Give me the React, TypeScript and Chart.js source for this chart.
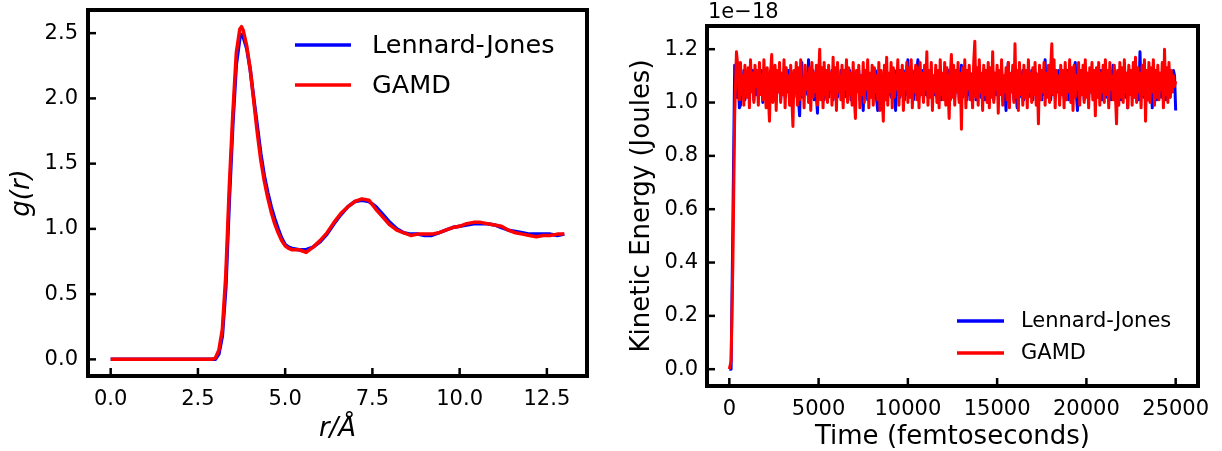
import React, { useEffect, useRef } from 'react';
import { Chart, registerables } from 'chart.js';

Chart.register(...registerables);

const FONT = "'DejaVu Sans', 'Liberation Sans', sans-serif";

// ---------- Left panel: radial distribution function ----------
const rValues = [
  0, 1, 2, 2.8,
  2.9, 3.0, 3.1, 3.2, 3.3, 3.4, 3.5, 3.6, 3.7, 3.75, 3.8, 3.9, 4.0, 4.1, 4.2, 4.3, 4.4, 4.5, 4.6, 4.7, 4.8, 4.9, 5.0, 5.1, 5.2,
  5.4, 5.6, 5.8, 6.0, 6.2, 6.4, 6.6, 6.8, 7.0, 7.2, 7.4, 7.6, 7.8, 8.0, 8.2, 8.4, 8.6, 8.8, 9.0, 9.2,
  9.4, 9.6, 9.8, 10.0, 10.2, 10.4, 10.6, 10.8, 11.0, 11.2, 11.4, 11.6, 11.8, 12.0, 12.2, 12.4, 12.6, 12.8, 13.0,
];
const gLennardJones = [
  0, 0, 0, 0,
  0.0, 0.0, 0.04, 0.18, 0.55, 1.22, 1.80, 2.26, 2.46, 2.49, 2.47, 2.38, 2.22, 2.00, 1.79, 1.58, 1.41, 1.28, 1.17, 1.08, 1.00, 0.93, 0.88, 0.86, 0.85,
  0.84, 0.84, 0.86, 0.90, 0.96, 1.04, 1.11, 1.17, 1.21, 1.22, 1.21, 1.17, 1.11, 1.05, 1.00, 0.97, 0.96, 0.96, 0.95, 0.95,
  0.97, 0.99, 1.01, 1.02, 1.03, 1.04, 1.04, 1.04, 1.03, 1.01, 0.99, 0.98, 0.97, 0.96, 0.96, 0.96, 0.96, 0.95, 0.96,
];
const gGAMD = [
  0, 0, 0, 0,
  0.0, 0.01, 0.07, 0.23, 0.65, 1.33, 1.88, 2.35, 2.53, 2.55, 2.52, 2.40, 2.22, 1.98, 1.74, 1.53, 1.37, 1.24, 1.13, 1.04, 0.97, 0.91, 0.87, 0.85, 0.84,
  0.84, 0.82, 0.86, 0.91, 0.97, 1.05, 1.12, 1.17, 1.21, 1.23, 1.22, 1.15, 1.09, 1.03, 0.99, 0.97, 0.95, 0.96, 0.96, 0.96,
  0.97, 0.99, 1.01, 1.02, 1.04, 1.05, 1.05, 1.04, 1.03, 1.02, 0.99, 0.97, 0.96, 0.95, 0.94, 0.95, 0.95, 0.96, 0.96,
];
const rTicks = [0, 2.5, 5, 7.5, 10, 12.5];
const gTicks = [0, 0.5, 1, 1.5, 2, 2.5];

// ---------- Right panel: kinetic energy (units of 1e-18 J) ----------
const timeFs = [
  0, 100, 200, 300, 400,
  500, 562.5, 625, 687.5, 750, 812.5, 875, 937.5, 1000, 1062.5, 1125, 1187.5, 1250, 1312.5, 1375, 1437.5,
  1500, 1562.5, 1625, 1687.5, 1750, 1812.5, 1875, 1937.5, 2000, 2062.5, 2125, 2187.5, 2250, 2312.5, 2375, 2437.5,
  2500, 2562.5, 2625, 2687.5, 2750, 2812.5, 2875, 2937.5, 3000, 3062.5, 3125, 3187.5, 3250, 3312.5, 3375, 3437.5,
  3500, 3562.5, 3625, 3687.5, 3750, 3812.5, 3875, 3937.5, 4000, 4062.5, 4125, 4187.5, 4250, 4312.5, 4375, 4437.5,
  4500, 4562.5, 4625, 4687.5, 4750, 4812.5, 4875, 4937.5, 5000, 5062.5, 5125, 5187.5, 5250, 5312.5, 5375, 5437.5,
  5500, 5562.5, 5625, 5687.5, 5750, 5812.5, 5875, 5937.5, 6000, 6062.5, 6125, 6187.5, 6250, 6312.5, 6375, 6437.5,
  6500, 6562.5, 6625, 6687.5, 6750, 6812.5, 6875, 6937.5, 7000, 7062.5, 7125, 7187.5, 7250, 7312.5, 7375, 7437.5,
  7500, 7562.5, 7625, 7687.5, 7750, 7812.5, 7875, 7937.5, 8000, 8062.5, 8125, 8187.5, 8250, 8312.5, 8375, 8437.5,
  8500, 8562.5, 8625, 8687.5, 8750, 8812.5, 8875, 8937.5, 9000, 9062.5, 9125, 9187.5, 9250, 9312.5, 9375, 9437.5,
  9500, 9562.5, 9625, 9687.5, 9750, 9812.5, 9875, 9937.5, 10000, 10062.5, 10125, 10187.5, 10250, 10312.5, 10375, 10437.5,
  10500, 10562.5, 10625, 10687.5, 10750, 10812.5, 10875, 10937.5, 11000, 11062.5, 11125, 11187.5, 11250, 11312.5, 11375, 11437.5,
  11500, 11562.5, 11625, 11687.5, 11750, 11812.5, 11875, 11937.5, 12000, 12062.5, 12125, 12187.5, 12250, 12312.5, 12375, 12437.5,
  12500, 12562.5, 12625, 12687.5, 12750, 12812.5, 12875, 12937.5, 13000, 13062.5, 13125, 13187.5, 13250, 13312.5, 13375, 13437.5,
  13500, 13562.5, 13625, 13687.5, 13750, 13812.5, 13875, 13937.5, 14000, 14062.5, 14125, 14187.5, 14250, 14312.5, 14375, 14437.5,
  14500, 14562.5, 14625, 14687.5, 14750, 14812.5, 14875, 14937.5, 15000, 15062.5, 15125, 15187.5, 15250, 15312.5, 15375, 15437.5,
  15500, 15562.5, 15625, 15687.5, 15750, 15812.5, 15875, 15937.5, 16000, 16062.5, 16125, 16187.5, 16250, 16312.5, 16375, 16437.5,
  16500, 16562.5, 16625, 16687.5, 16750, 16812.5, 16875, 16937.5, 17000, 17062.5, 17125, 17187.5, 17250, 17312.5, 17375, 17437.5,
  17500, 17562.5, 17625, 17687.5, 17750, 17812.5, 17875, 17937.5, 18000, 18062.5, 18125, 18187.5, 18250, 18312.5, 18375, 18437.5,
  18500, 18562.5, 18625, 18687.5, 18750, 18812.5, 18875, 18937.5, 19000, 19062.5, 19125, 19187.5, 19250, 19312.5, 19375, 19437.5,
  19500, 19562.5, 19625, 19687.5, 19750, 19812.5, 19875, 19937.5, 20000, 20062.5, 20125, 20187.5, 20250, 20312.5, 20375, 20437.5,
  20500, 20562.5, 20625, 20687.5, 20750, 20812.5, 20875, 20937.5, 21000, 21062.5, 21125, 21187.5, 21250, 21312.5, 21375, 21437.5,
  21500, 21562.5, 21625, 21687.5, 21750, 21812.5, 21875, 21937.5, 22000, 22062.5, 22125, 22187.5, 22250, 22312.5, 22375, 22437.5,
  22500, 22562.5, 22625, 22687.5, 22750, 22812.5, 22875, 22937.5, 23000, 23062.5, 23125, 23187.5, 23250, 23312.5, 23375, 23437.5,
  23500, 23562.5, 23625, 23687.5, 23750, 23812.5, 23875, 23937.5, 24000, 24062.5, 24125, 24187.5, 24250, 24312.5, 24375, 24437.5,
  24500, 24562.5, 24625, 24687.5, 24750, 24812.5, 24875, 24937.5, 25000,
];
const keLennardJones = [
  0.0, 0.0, 0.55, 1.14, 1.02,
  1.08, 0.98, 0.99, 1.10, 1.03, 1.12, 1.01, 1.09, 1.04, 1.11, 1.02, 1.08, 1.05, 1.12, 1.01, 1.10,
  1.03, 1.11, 1.02, 1.09, 1.05, 1.12, 1.00, 1.10, 1.04, 1.11, 1.02, 1.08, 1.03, 1.12, 1.01, 1.09,
  1.05, 1.11, 1.02, 1.10, 1.04, 1.12, 1.01, 1.09, 1.03, 1.11, 1.02, 1.08, 1.04, 1.12, 1.01, 1.10,
  1.03, 1.11, 1.02, 1.09, 1.04, 1.12, 1.01, 0.95, 1.10, 1.15, 1.02, 1.09, 1.04, 1.11, 1.03, 1.16,
  1.02, 1.10, 1.04, 1.12, 1.01, 1.09, 1.03, 0.96, 1.11, 1.02, 1.10, 1.04, 1.12, 1.01, 1.09, 1.03,
  1.11, 1.02, 1.10, 1.04, 1.12, 1.01, 1.09, 1.03, 1.11, 1.02, 1.08, 1.05, 1.12, 1.01, 1.10, 1.03,
  1.11, 1.02, 1.09, 1.04, 1.12, 1.01, 1.10, 1.03, 1.11, 1.02, 1.09, 1.05, 1.12, 1.01, 1.10, 1.03,
  0.97, 1.10, 1.03, 1.12, 1.01, 1.09, 1.04, 1.11, 1.02, 1.10, 1.03, 1.12, 1.01, 0.97, 1.09, 1.04,
  1.11, 1.02, 1.10, 1.04, 1.12, 1.01, 1.09, 1.03, 1.11, 1.02, 1.10, 1.04, 1.12, 0.97, 1.09, 1.03,
  1.11, 1.02, 1.10, 1.04, 1.12, 1.01, 1.09, 1.03, 1.16, 1.02, 1.10, 1.04, 1.12, 1.01, 1.09, 1.03,
  1.11, 1.16, 1.02, 1.10, 1.04, 1.12, 1.01, 1.09, 1.03, 1.11, 1.02, 1.10, 1.04, 1.12, 1.01, 1.09,
  1.03, 1.11, 1.02, 1.10, 1.04, 1.12, 1.01, 1.09, 1.03, 1.11, 1.02, 1.08, 1.05, 1.12, 1.01, 1.10,
  1.03, 1.11, 1.02, 1.09, 1.04, 1.12, 1.01, 1.10, 1.14, 1.02, 1.10, 1.04, 1.12, 1.01, 1.09, 1.03,
  1.11, 1.02, 1.10, 1.04, 1.12, 1.01, 1.09, 1.03, 1.11, 1.02, 1.10, 1.05, 1.12, 1.01, 1.09, 1.03,
  1.11, 1.02, 1.10, 1.04, 1.12, 1.01, 1.09, 1.03, 1.11, 1.02, 1.10, 1.04, 1.12, 1.01, 1.09, 1.03,
  0.97, 1.10, 1.15, 1.02, 1.10, 1.04, 1.12, 1.01, 1.09, 1.03, 0.98, 1.11, 1.02, 1.10, 1.04, 1.12,
  1.01, 1.09, 1.03, 1.11, 1.02, 1.10, 1.04, 1.12, 1.01, 1.09, 1.03, 1.11, 1.02, 1.10, 1.04, 1.12,
  1.01, 1.09, 1.03, 1.16, 1.02, 1.10, 1.04, 1.12, 1.01, 1.09, 1.03, 1.11, 1.02, 1.10, 1.04, 1.12,
  1.01, 1.09, 1.03, 1.11, 1.02, 1.10, 1.04, 1.12, 1.01, 1.09, 1.03, 1.11, 1.02, 1.10, 1.15, 1.03,
  0.97, 1.11, 1.02, 1.10, 1.04, 1.12, 1.01, 1.09, 1.03, 1.11, 1.02, 1.10, 1.04, 1.12, 1.01, 1.09,
  1.03, 1.11, 1.02, 1.10, 1.04, 1.12, 1.01, 1.09, 1.03, 1.11, 1.02, 1.10, 1.04, 1.12, 1.01, 1.09,
  1.14, 1.03, 1.11, 1.02, 1.10, 1.04, 1.12, 1.01, 1.09, 1.03, 1.11, 1.02, 1.10, 0.98, 1.12, 1.04,
  1.09, 1.03, 1.11, 1.02, 1.10, 1.04, 1.12, 1.01, 1.19, 1.03, 1.11, 1.02, 1.10, 1.04, 1.12, 1.01,
  1.09, 1.03, 1.11, 0.98, 1.10, 1.04, 1.12, 1.01, 1.09, 1.03, 1.11, 1.02, 1.10, 1.04, 1.12, 1.01,
  1.09, 1.03, 1.11, 1.02, 1.10, 1.04, 1.12, 1.10, 0.97,
];
const keGAMD = [
  0.0, 0.03, 0.40, 0.95, 1.19,
  1.12, 1.01, 1.15, 1.03, 1.10, 0.99, 1.14, 1.05, 1.02, 1.13, 0.98, 1.16, 1.04, 1.11, 1.00, 1.14,
  1.06, 1.12, 0.99, 1.15, 1.03, 1.10, 1.01, 1.16, 1.05, 0.98, 1.13, 1.02, 0.93, 1.11, 1.18, 1.00,
  1.09, 1.14, 0.97, 1.12, 1.04, 1.15, 1.00, 1.11, 1.03, 1.16, 0.98, 1.13, 1.05, 1.10, 0.99, 1.14,
  1.02, 0.91, 1.12, 1.04, 1.15, 0.99, 1.13, 1.01, 1.16, 1.03, 1.09, 0.98, 1.14, 1.05, 1.11, 1.00,
  1.13, 0.97, 1.15, 1.02, 1.11, 1.04, 1.14, 0.99, 1.10, 1.20, 1.01, 1.13, 0.98, 1.15, 1.03, 1.12,
  1.00, 1.14, 1.05, 1.11, 0.99, 1.17, 1.02, 1.13, 0.97, 1.15, 1.04, 1.10, 1.01, 1.14, 0.98, 1.12,
  1.05, 1.16, 1.00, 1.13, 1.03, 1.11, 0.99, 1.15, 1.02, 0.94, 1.12, 1.04, 1.14, 0.98, 1.10, 1.03,
  1.15, 1.00, 1.12, 1.05, 1.16, 0.98, 1.11, 1.02, 1.14, 0.99, 1.13, 1.04, 1.10, 1.01, 1.15, 0.97,
  1.12, 1.03, 0.93, 1.14, 1.01, 1.17, 0.99, 1.11, 1.04, 1.15, 0.98, 1.13, 1.02, 1.10, 1.05, 1.16,
  0.99, 1.12, 1.03, 1.14, 0.97, 1.11, 1.05, 1.15, 1.00, 1.13, 1.02, 1.16, 0.98, 1.10, 1.04, 1.14,
  1.01, 1.13, 0.98, 1.15, 1.03, 1.11, 1.00, 1.14, 1.05, 1.19, 0.99, 1.12, 1.02, 1.15, 0.97, 1.10,
  1.04, 1.14, 1.00, 1.12, 0.98, 1.16, 1.03, 1.11, 1.01, 1.15, 0.99, 1.13, 1.05, 0.94, 1.10, 1.18,
  1.02, 1.14, 0.99, 1.12, 1.04, 1.15, 1.00, 1.11, 0.90, 1.13, 1.03, 1.16, 0.98, 1.12, 1.05, 1.14,
  1.01, 1.10, 0.98, 1.15, 1.23, 1.02, 1.13, 0.99, 1.16, 1.04, 1.11, 0.97, 1.14, 1.03, 1.12, 1.00,
  1.15, 0.98, 1.13, 1.02, 1.19, 1.00, 1.11, 1.05, 1.14, 0.96, 1.12, 1.03, 1.16, 0.99, 1.10, 1.04,
  1.13, 1.01, 1.15, 0.98, 1.11, 1.04, 1.14, 1.00, 1.22, 1.02, 1.12, 0.97, 1.15, 1.03, 1.10, 0.99,
  1.14, 1.02, 1.12, 0.98, 1.16, 1.04, 1.11, 1.00, 1.13, 1.03, 1.15, 0.99, 1.10, 0.92, 1.14, 1.01,
  1.12, 1.04, 1.15, 0.99, 1.11, 1.02, 1.14, 1.00, 1.13, 1.22, 1.03, 1.16, 0.98, 1.12, 1.05, 1.10,
  0.99, 1.14, 1.03, 1.12, 0.98, 1.15, 1.01, 1.11, 1.04, 1.16, 1.00, 1.13, 0.97, 1.14, 1.02, 1.10,
  1.05, 1.15, 0.99, 1.12, 1.03, 1.14, 1.00, 1.16, 1.02, 1.11, 0.98, 1.13, 1.04, 1.15, 1.01, 1.12,
  0.95, 1.13, 1.02, 1.15, 0.99, 1.11, 1.04, 1.14, 1.00, 1.16, 1.03, 1.12, 0.98, 1.15, 1.05, 1.10,
  1.01, 1.14, 1.03, 0.92, 1.12, 0.99, 1.15, 1.02, 1.13, 1.00, 1.16, 1.04, 1.11, 0.98, 1.14, 1.03,
  1.12, 0.99, 1.15, 1.02, 1.17, 1.00, 1.13, 1.04, 1.11, 0.98, 1.14, 1.03, 1.16, 0.93, 1.12, 1.01,
  1.15, 1.00, 1.13, 1.04, 1.16, 0.99, 1.12, 1.02, 1.14, 1.01, 1.11, 1.05, 1.15, 0.98, 1.20, 1.03,
  1.13, 1.00, 1.15, 1.02, 1.12, 1.04, 1.10, 1.06, 1.08,
];
const timeTicks = [0, 5000, 10000, 15000, 20000, 25000];
const keTicks = [0, 0.2, 0.4, 0.6, 0.8, 1.0, 1.2];

const SERIES_NAMES = ['Lennard-Jones', 'GAMD'];
const SERIES_COLORS = ['#0000ff', '#ff0000'];
const SERIES_ORDER = [1, 0]; // GAMD drawn over Lennard-Jones

type LegendOpts = {
  lineX0: number; lineX1: number; textX: number; rowY: number[]; fontSize: number;
  offsetText?: { text: string; x: number; y: number; size: number };
};

function makeFramePlugin(legend: LegendOpts) {
  return {
    id: 'mplFrame',
    afterDraw(chart: any) {
      const { ctx, chartArea } = chart;
      const { left, right, top, bottom } = chartArea;
      const xs = chart.scales.x;
      const ys = chart.scales.y;
      ctx.save();
      ctx.strokeStyle = '#000';
      ctx.lineWidth = 2.5;
      ctx.lineCap = 'butt';
      for (const t of xs.ticks) {
        const px = xs.getPixelForValue(t.value);
        ctx.beginPath();
        ctx.moveTo(px, bottom);
        ctx.lineTo(px, bottom - 8);
        ctx.stroke();
      }
      for (const t of ys.ticks) {
        const py = ys.getPixelForValue(t.value);
        ctx.beginPath();
        ctx.moveTo(left, py);
        ctx.lineTo(left + 8, py);
        ctx.stroke();
      }
      ctx.lineWidth = 4;
      ctx.lineJoin = 'miter';
      ctx.strokeRect(left, top, right - left, bottom - top);

      // legend
      ctx.font = `${legend.fontSize}px ${FONT}`;
      ctx.textAlign = 'left';
      ctx.textBaseline = 'middle';
      chart.data.datasets.forEach((ds: any, i: number) => {
        const y = legend.rowY[i];
        ctx.strokeStyle = ds.borderColor;
        ctx.lineWidth = 3.5;
        ctx.beginPath();
        ctx.moveTo(legend.lineX0, y);
        ctx.lineTo(legend.lineX1, y);
        ctx.stroke();
        ctx.fillStyle = '#000';
        ctx.fillText(ds.label, legend.textX, y + 1);
      });

      if (legend.offsetText) {
        const o = legend.offsetText;
        ctx.font = `${o.size}px ${FONT}`;
        ctx.textAlign = 'left';
        ctx.textBaseline = 'middle';
        ctx.fillStyle = '#000';
        ctx.fillText(o.text, o.x, o.y);
      }
      ctx.restore();
    },
  };
}

function makeConfig(p: {
  xs: number[]; series: number[][]; xMin: number; xMax: number; yMin: number; yMax: number;
  xTicks: number[]; yTicks: number[]; xFmt: (v: number) => string; yFmt: (v: number) => string;
  xTitle: string; yTitle: string; titleItalic: boolean; lineWidth: number;
  yAxisWidth: number; xAxisHeight: number; padTop: number; padRight: number;
  yLabelPad: number; xLabelPad: number; yTitlePad: number; xTitlePad: number;
  legend: LegendOpts;
}) {
  const zeroPad = (s: any) => {
    s.paddingTop = 0; s.paddingBottom = 0; s.paddingLeft = 0; s.paddingRight = 0;
  };
  return {
    type: 'line' as const,
    data: {
      datasets: p.series.map((vals, i) => ({
        label: SERIES_NAMES[i],
        data: p.xs.map((x, j) => ({ x, y: vals[j] })),
        borderColor: SERIES_COLORS[i],
        backgroundColor: SERIES_COLORS[i],
        borderWidth: p.lineWidth,
        order: SERIES_ORDER[i],
        pointRadius: 0,
        tension: 0,
        fill: false,
        borderJoinStyle: 'round' as const,
      })),
    },
    options: {
      responsive: false,
      animation: false as const,
      devicePixelRatio: 1,
      layout: { padding: { left: 0, top: p.padTop, right: p.padRight, bottom: 0 } },
      plugins: { legend: { display: false }, tooltip: { enabled: false } },
      scales: {
        x: {
          type: 'linear' as const,
          min: p.xMin,
          max: p.xMax,
          grid: { display: false, drawTicks: false, tickLength: 0 },
          border: { display: false },
          afterBuildTicks: (s: any) => { s.ticks = p.xTicks.map((v) => ({ value: v })); },
          afterFit: (s: any) => { s.height = p.xAxisHeight; zeroPad(s); },
          ticks: {
            padding: p.xLabelPad,
            maxRotation: 0,
            autoSkip: false,
            color: '#000',
            font: { family: FONT, size: 21, lineHeight: 1.2 },
            callback: (v: any) => p.xFmt(Number(v)),
          },
          title: {
            display: true,
            text: p.xTitle,
            color: '#000',
            padding: { top: 0, bottom: p.xTitlePad },
            font: { family: FONT, size: 26, lineHeight: 1, style: p.titleItalic ? 'italic' : 'normal' },
          },
        },
        y: {
          type: 'linear' as const,
          min: p.yMin,
          max: p.yMax,
          grid: { display: false, drawTicks: false, tickLength: 0 },
          border: { display: false },
          afterBuildTicks: (s: any) => { s.ticks = p.yTicks.map((v) => ({ value: v })); },
          afterFit: (s: any) => { s.width = p.yAxisWidth; zeroPad(s); },
          ticks: {
            padding: p.yLabelPad,
            autoSkip: false,
            color: '#000',
            font: { family: FONT, size: 21, lineHeight: 1.2 },
            callback: (v: any) => p.yFmt(Number(v)),
          },
          title: {
            display: true,
            text: p.yTitle,
            color: '#000',
            padding: { top: p.yTitlePad, bottom: 0 },
            font: { family: FONT, size: 26, lineHeight: 1, style: p.titleItalic ? 'italic' : 'normal' },
          },
        },
      },
    },
    plugins: [makeFramePlugin(p.legend)],
  };
}

function ChartCanvas({ width, height, left, build }: { width: number; height: number; left: number; build: () => any }) {
  const ref = useRef<HTMLCanvasElement | null>(null);
  useEffect(() => {
    if (!ref.current) return;
    const chart = new Chart(ref.current, build());
    return () => chart.destroy();
  }, []);
  return (
    <canvas
      ref={ref}
      width={width}
      height={height}
      style={{ position: 'absolute', left, top: 0, width, height, display: 'block' }}
    />
  );
}

export default function App() {
  const leftConfig = () =>
    makeConfig({
      xs: rValues,
      series: [gLennardJones, gGAMD],
      xMin: -0.65, xMax: 13.65, yMin: -0.1275, yMax: 2.6775,
      xTicks: rTicks, yTicks: gTicks,
      xFmt: (v) => v.toFixed(1), yFmt: (v) => v.toFixed(1),
      xTitle: 'r/Å', yTitle: 'g(r)', titleItalic: true, lineWidth: 3.5,
      yAxisWidth: 88, xAxisHeight: 75, padTop: 10, padRight: 23,
      yLabelPad: 10, xLabelPad: 11, yTitlePad: 9, xTitlePad: 9,
      legend: { lineX0: 295, lineX1: 351, textX: 372, rowY: [45, 85], fontSize: 25.5 },
    });
  const rightConfig = () =>
    makeConfig({
      xs: timeFs,
      series: [keLennardJones, keGAMD],
      xMin: -1250, xMax: 26250, yMin: -0.063, yMax: 1.287,
      xTicks: timeTicks, yTicks: keTicks,
      xFmt: (v) => String(Math.round(v)), yFmt: (v) => v.toFixed(1),
      xTitle: 'Time (femtoseconds)', yTitle: 'Kinetic Energy (Joules)', titleItalic: false, lineWidth: 3,
      yAxisWidth: 97, xAxisHeight: 65, padTop: 26, padRight: 24,
      yLabelPad: 9, xLabelPad: 11, yTitlePad: 19, xTitlePad: 1,
      legend: {
        lineX0: 957 - 610, lineX1: 1004 - 610, textX: 1021 - 610, rowY: [321, 353], fontSize: 21,
        offsetText: { text: '1e\u221218', x: 708 - 610, y: 13, size: 21 },
      },
    });
  return (
    <div style={{ position: 'absolute', left: 0, top: 0, width: 1222, height: 451, background: '#fff' }}>
      <ChartCanvas width={610} height={451} left={0} build={leftConfig} />
      <ChartCanvas width={612} height={451} left={610} build={rightConfig} />
    </div>
  );
}
